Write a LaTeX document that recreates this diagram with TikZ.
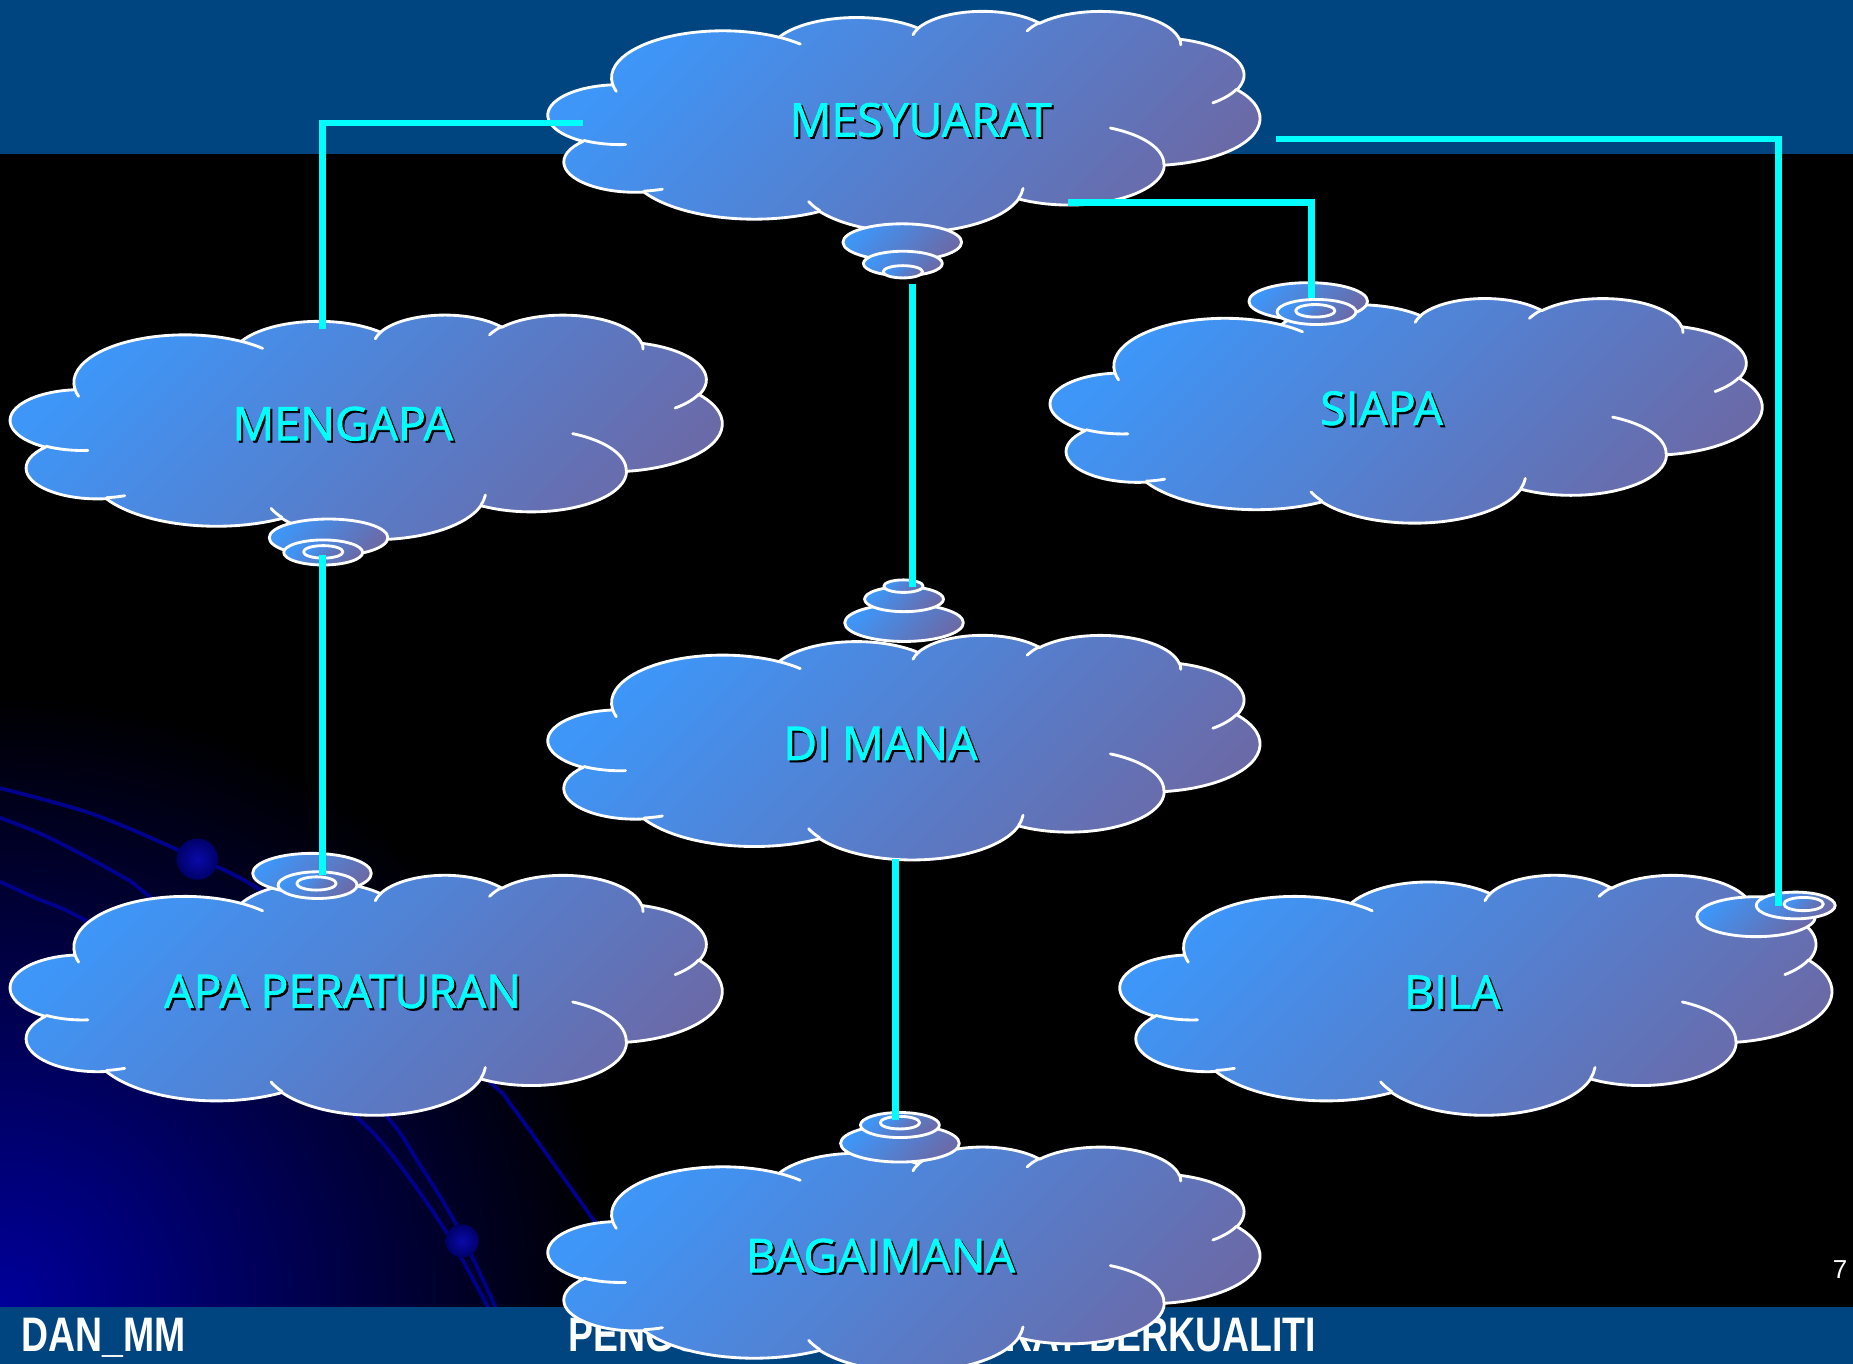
\documentclass[tikz,border=0pt]{standalone}
\usepackage{fontspec}
\usepackage{graphicx}
\setmainfont{Liberation Sans}
\newfontfamily\lblfont{Open Sans}[FakeBold=1.6]
\definecolor{bandc}{RGB}{0,69,127}
\definecolor{cloudA}{RGB}{62,150,248}
\definecolor{cloudB}{RGB}{106,106,168}
\definecolor{linkc}{RGB}{0,255,255}
\definecolor{curvec}{RGB}{0,0,140}
\definecolor{glowc}{RGB}{0,0,155}
\definecolor{dotA}{RGB}{10,10,170}
\definecolor{dotB}{RGB}{0,0,105}

% arc of the cloud outline: name, wR, hR, start angle, sweep (visual angles)
\newcommand\defcarc[5]{%
  \pgfmathsetmacro\cta{atan2((#2)*sin(#4),(#3)*cos(#4))}%
  \pgfmathsetmacro\ctb{atan2((#2)*sin((#4)+(#5)),(#3)*cos((#4)+(#5)))}%
  \pgfmathsetmacro\ctb{\ctb<\cta ? \ctb+360 : \ctb}%
  \expandafter\xdef\csname carc#1\endcsname{arc[x radius=#2, y radius=#3, start angle=\cta, end angle=\ctb]}%
}
\defcarc{A}{6.753}{9.190}{-190.48748}{123.78053}
\defcarc{B}{5.333}{7.267}{-144.10238}{89.94523}
\defcarc{C}{4.365}{5.945}{-145.80792}{99.72302}
\defcarc{D}{4.857}{6.595}{-130.98607}{117.24173}
\defcarc{E}{5.333}{7.273}{-78.70888}{109.02692}
\defcarc{F}{6.775}{9.220}{-46.26725}{130.26900}
\defcarc{G}{5.785}{7.867}{0.62502}{114.03333}
\defcarc{H}{6.752}{9.215}{22.45160}{115.17255}
\defcarc{I}{7.720}{10.543}{66.24263}{75.71102}
\defcarc{J}{4.360}{5.918}{-274.94208}{146.73557}
\defcarc{K}{4.345}{5.945}{-246.82850}{152.51885}
\defcarc{ia}{4.345}{5.945}{86.74200}{26.42950}
\defcarc{ib}{4.360}{5.918}{73.61047}{11.44747}
\defcarc{ic}{6.752}{9.215}{137.62415}{14.08110}
\defcarc{id}{6.752}{9.215}{6.45327}{15.99835}
\defcarc{ie}{5.785}{7.867}{-70.29235}{70.91737}
\defcarc{if}{5.333}{7.273}{30.31803}{27.75150}
\defcarc{ig}{4.857}{6.595}{-13.74433}{14.85890}
\defcarc{ih}{4.857}{6.595}{-149.18145}{18.19537}
\defcarc{ii}{4.365}{5.945}{-163.49427}{17.68635}
\defcarc{ij}{6.753}{9.190}{-66.70695}{12.31935}
\defcarc{ik}{6.753}{9.190}{157.65435}{11.85817}

\newcommand\cloudpath{(3.9,14.37) \carcA \carcB \carcC \carcD \carcE \carcF \carcG \carcH \carcI \carcJ \carcK -- cycle}
\newcommand\cloudinner{(4.693,26.177) \carcia (6.928,34.899) \carcib (16.478,39.090) \carcic (28.827,34.751) \carcid (34.129,22.954) \carcie (41.798,15.354) \carcif (38.324,5.426) \carcig (29.078,3.952) \carcih (22.141,4.720) \carcii (14.0,5.192) \carcij (4.127,15.789) \carcik}

\tikzset{
  cloudbody/.style={draw=white, line width=1.2pt, line join=round, top color=cloudA, bottom color=cloudB, shading angle=45},
  cloudedge/.style={draw=white, line width=1.2pt, line cap=round},
  bubble/.style={cloudbody},
  link/.style={draw=linkc, line width=2.8pt},
  lbl/.style={font=\lblfont\fontsize{19.6}{22}\selectfont, text=linkc, inner sep=0pt},
  lblshadow/.style={lbl, text=black},
  curve/.style={draw=curvec, line width=1.6pt},
  foot/.style={font=\bfseries\fontsize{20.5}{24}\selectfont, text=white, inner sep=0pt, anchor=base west, xscale=0.772},
}

% name, x0, y0, W, H
\newcommand\cloudat[5]{%
  \begin{scope}[shift={(#2,#3)}, xscale=#4/43.2, yscale=#5/43.2]
    \coordinate (#1) at (21.6,21.6);
    \path[cloudbody] \cloudpath;
    \path[cloudedge] \cloudinner;
  \end{scope}}
% name, x, y, rx, ry
\newcommand\bub[5]{%
  \draw[bubble] (#2,#3) ellipse [x radius=#4, y radius=#5];
  \coordinate (#1) at (#2,#3);}
% name, x, y, text
\newcommand\cloudlabel[4]{%
  \node[lblshadow] (#1s) at (#2+1.8,#3+1.8) {#4};
  \node[lbl] (#1) at (#2,#3) {#4};}

\begin{document}
\begin{tikzpicture}[x=0.5pt, y=-0.5pt]
\useasboundingbox (0,0) rectangle (1568,1154);
% background
\fill[black] (0,0) rectangle (1568,1154);
\begin{scope}
  \clip (0,130) rectangle (1568,1106);
  \fill[inner color=glowc, outer color=black] (0,1106) circle [radius=520];
\end{scope}
\fill[bandc] (0,0) rectangle (1568,130);
% decorative curves
\draw[curve] plot[smooth, tension=0.55] coordinates {(0,667) (76,688) (150,719) (220,753) (320,830) (415,916) (434,937) (502,1032) (557,1110)};
\draw[curve] plot[smooth, tension=0.55] coordinates {(0,692) (42,709) (104,742) (127,759) (240,850) (326,943) (353,982) (387,1038) (421,1110)};
\draw[curve] plot[smooth, tension=0.55] coordinates {(0,746) (28,759) (76,781) (200,860) (299,943) (333,979) (378,1043) (415,1110)};
\fill[inner color=dotA, outer color=dotB] (167,727) circle [radius=17.5];
\fill[inner color=dotA, outer color=dotB] (391,1050) circle [radius=14];
% footer
\fill[bandc] (0,1106) rectangle (1568,1154);
\node[foot] (footL) at (18,1144) {DAN\_MM};
\node[foot] (footC) at (481,1144) {PENGURUSAN MESYUARAT BERKUALITI};
\node[font=\fontsize{11}{13}\selectfont, text=white, inner sep=0pt] (pnum) at (1557,1074) {7};

% clouds
\cloudat{cMes}{464}{9}{602}{187}
\bub{mesB1}{763.5}{205}{50.2}{15.6}
\bub{mesB2}{764}{223}{33.4}{10.4}
\bub{mesB3}{764}{230}{16.7}{5.2}

\cloudat{cMgp}{9}{266}{602}{190}
\bub{mgpB1}{278}{455}{50.2}{15.8}
\bub{mgpB2}{273.5}{467.5}{33.4}{10.6}
\bub{mgpB3}{273.5}{467}{16.7}{5.3}

\cloudat{cSia}{889}{252}{602}{190}
\bub{siaB1}{1107}{255}{50.2}{15.8}
\bub{siaB2}{1114}{264}{33.4}{10.6}
\bub{siaB3}{1113}{263}{16.7}{5.3}

\cloudat{cDim}{464}{537}{602}{190}
\bub{dimB1}{765}{527}{50.2}{15.8}
\bub{dimB2}{765}{507}{33.4}{10.6}
\bub{dimB3}{764.5}{496}{16.7}{5.3}

\cloudat{cApa}{9}{740}{602}{203}
\bub{apaB1}{264}{739}{50.2}{16.9}
\bub{apaB2}{268.7}{749}{33.4}{11.3}
\bub{apaB3}{267.8}{747.6}{16.7}{5.6}

\cloudat{cBil}{948}{740}{602}{203}
\bub{bilB1}{1486}{775.7}{50.2}{16.9}
\bub{bilB2}{1519.5}{766.2}{33.4}{11.3}
\bub{bilB3}{1526.2}{765}{16.7}{5.6}

\cloudat{cBag}{464}{970}{602}{190}
\bub{bagB1}{761.5}{967.5}{50.2}{15.8}
\bub{bagB2}{761.5}{952}{33.4}{10.6}
\bub{bagB3}{761.5}{950}{16.7}{5.3}

% connector end points
\coordinate (mesL) at (493,104);
\coordinate (mgpT) at (273,278);
\coordinate (mesR) at (1080,117.5);
\coordinate (bilT) at (1505,767);
\coordinate (mesD) at (904,171.6);
\coordinate (siaT) at (1110,252);
\coordinate (mesTip) at (772,240);
\coordinate (dimTip) at (772,497);
\coordinate (mgpTip) at (273,470);
\coordinate (apaTip) at (273,740);
\coordinate (dimBot) at (758,727);
\coordinate (bagTip) at (758,948);

\draw[link] (mesL) -| (mgpT);
\draw[link] (mesR) -| (bilT);
\draw[link] (mesD) -| (siaT);
\draw[link] (mesTip) -- (dimTip);
\draw[link] (mgpTip) -- (apaTip);
\draw[link] (dimBot) -- (bagTip);

% labels
\cloudlabel{tMes}{779}{101.5}{MESYUARAT}
\cloudlabel{tMgp}{290}{358.5}{MENGAPA}
\cloudlabel{tSia}{1169}{345.5}{SIAPA}
\cloudlabel{tDim}{745}{629}{DI MANA}
\cloudlabel{tApa}{290}{839}{APA PERATURAN}
\cloudlabel{tBil}{1229}{839.5}{BILA}
\cloudlabel{tBag}{745}{1062.5}{BAGAIMANA}
\end{tikzpicture}
\end{document}
